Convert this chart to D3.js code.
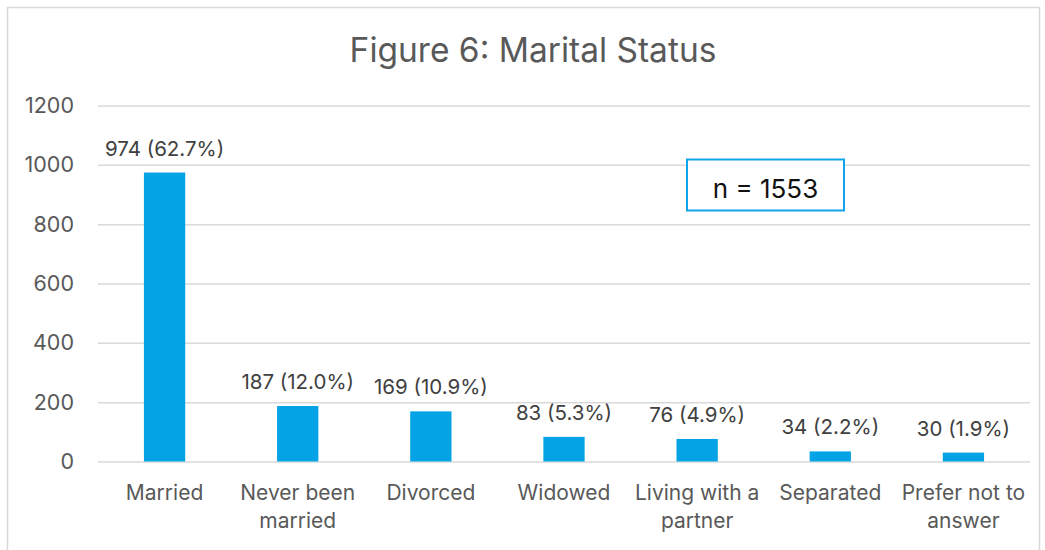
<!DOCTYPE html>
<html>
<head>
<meta charset="utf-8">
<script src="https://cdn.jsdelivr.net/npm/d3@7"></script>
<style>
  body { margin: 0; background: #fff; }
  text { font-family: Inter, "Open Sans", sans-serif; }
</style>
</head>
<body>
<div id="chart"></div>
<script>
// data
var categories = [["Married"], ["Never been", "married"], ["Divorced"], ["Widowed"],
  ["Living with a", "partner"], ["Separated"], ["Prefer not to", "answer"]];
var counts = [974, 187, 169, 83, 76, 34, 30];
var percents = ["62.7%", "12.0%", "10.9%", "5.3%", "4.9%", "2.2%", "1.9%"];
var yTicks = [0, 200, 400, 600, 800, 1000, 1200];
var total = 1553;

var svgWidth = 1045, svgHeight = 550;
var margin = { top: 105.5, left: 98, right: 15, bottom: 88.5 };
var width = svgWidth - margin.left - margin.right;
var height = svgHeight - margin.top - margin.bottom;

var svg = d3.select("#chart").append("svg")
  .attr("width", svgWidth)
  .attr("height", svgHeight);

// chart frame
svg.append("rect")
  .attr("x", 7.5).attr("y", 7.5)
  .attr("width", 1032).attr("height", 560)
  .attr("fill", "#fff")
  .attr("stroke", "#d9d9d9")
  .attr("stroke-width", 1.5);

svg.append("text")
  .attr("x", 533).attr("y", 62)
  .attr("text-anchor", "middle")
  .attr("font-size", "33.5px")
  .attr("fill", "#595959")
  .text("Figure 6: Marital Status");

var g = svg.append("g")
  .attr("transform", `translate(${margin.left}, ${margin.top})`);

var x = d3.scaleBand()
  .domain(d3.range(categories.length))
  .range([0, width])
  .paddingInner(0.69)
  .paddingOuter(0.345);

var y = d3.scaleLinear()
  .domain([0, 1200])
  .range([height, 0]);

// gridlines + y labels
var yAxis = d3.axisLeft(y).tickValues(yTicks).tickFormat(d3.format("d"))
  .tickSize(-width).tickPadding(24);
var ya = g.append("g").call(yAxis);
ya.select(".domain").remove();
ya.selectAll(".tick line").attr("stroke", "#d9d9d9").attr("stroke-width", 1.5);
ya.selectAll(".tick text")
  .attr("font-size", "21.5px")
  .attr("fill", "#595959")
  .attr("font-family", "Inter, sans-serif");

// bars
g.selectAll("rect.bar")
  .data(counts)
  .enter()
  .append("rect")
  .attr("class", "bar")
  .attr("x", (d, i) => x(i))
  .attr("y", d => y(d))
  .attr("width", x.bandwidth())
  .attr("height", d => height - y(d))
  .attr("fill", "#03a3e6");

// value labels
g.selectAll("text.val")
  .data(counts)
  .enter()
  .append("text")
  .attr("class", "val")
  .attr("x", (d, i) => x(i) + x.bandwidth() / 2)
  .attr("y", d => y(d) - 17)
  .attr("text-anchor", "middle")
  .attr("font-size", "20.5px")
  .attr("fill", "#404040")
  .text((d, i) => `${d} (${percents[i]})`);

// category labels
var xl = g.selectAll("text.cat")
  .data(categories)
  .enter()
  .append("text")
  .attr("class", "cat")
  .attr("text-anchor", "middle")
  .attr("font-size", "21px")
  .attr("fill", "#595959");
xl.each(function (lines, i) {
  var t = d3.select(this);
  lines.forEach(function (s, k) {
    t.append("tspan")
      .attr("x", x(i) + x.bandwidth() / 2)
      .attr("y", height + 38 + k * 28.5)
      .text(s);
  });
});

// n box
svg.append("rect")
  .attr("x", 687).attr("y", 159.5)
  .attr("width", 157).attr("height", 51)
  .attr("fill", "#fff")
  .attr("stroke", "#0ea5e9")
  .attr("stroke-width", 2);
svg.append("text")
  .attr("x", 765.5).attr("y", 198)
  .attr("text-anchor", "middle")
  .attr("font-size", "26px")
  .attr("fill", "#111")
  .text("n = " + total);
</script>
</body>
</html>
